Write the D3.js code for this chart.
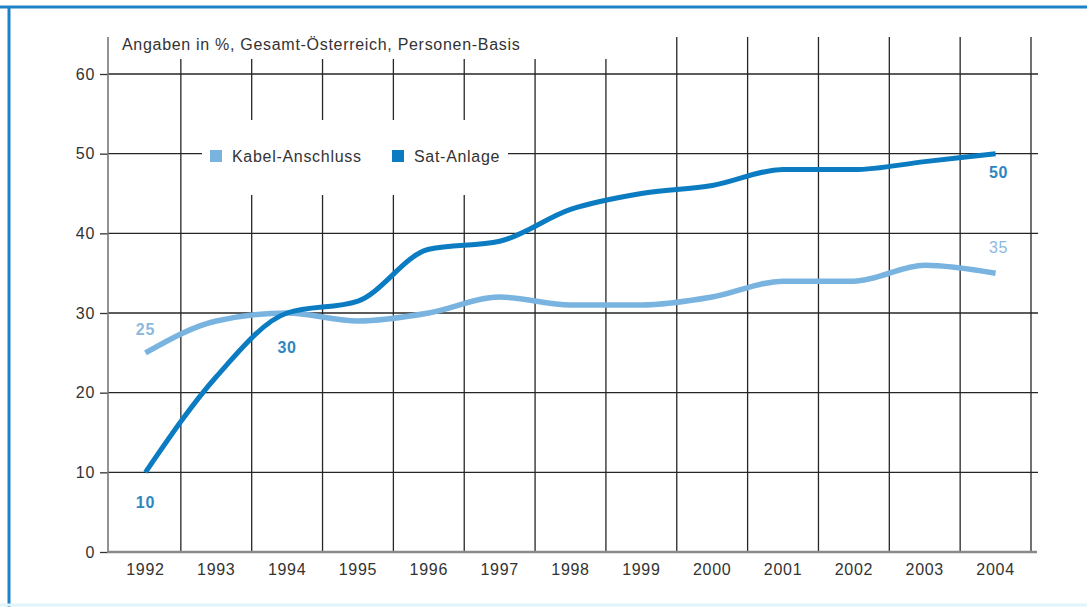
<!DOCTYPE html>
<html>
<head>
<meta charset="utf-8">
<script src="https://cdn.jsdelivr.net/npm/d3@7"></script>
<style>
  body { margin: 0; background: #fff; }
  svg { display: block; font-family: "Liberation Sans", Arial, sans-serif; }
  text { letter-spacing: 0.7px; }
</style>
</head>
<body>
<script>
// data
var years = ["1992", "1993", "1994", "1995", "1996", "1997", "1998",
             "1999", "2000", "2001", "2002", "2003", "2004"];
var kabel = [25, 29, 30, 29, 30, 32, 31, 31, 32, 34, 34, 36, 35];
var sat = [10, 22, 30, 31.5, 38, 39, 43, 45, 46, 48, 48, 49, 50];
var yTicks = [0, 10, 20, 30, 40, 50, 60];
var seriesNames = ["Kabel-Anschluss", "Sat-Anlage"];
var subtitle = "Angaben in %, Gesamt-Österreich, Personen-Basis";

var W = 1087, H = 607;
var cLight = "#79b4e0", cDark = "#0b7cc1";

var svg = d3.select("body").append("svg")
    .attr("width", W)
    .attr("height", H);

// frame round the picture
svg.append("rect").attr("x", 0).attr("y", 0).attr("width", W).attr("height", H).attr("fill", "#fff");
svg.append("line").attr("x1", 0).attr("x2", W).attr("y1", 7).attr("y2", 7)
    .attr("stroke", "#1f82c6").attr("stroke-width", 3);
svg.append("line").attr("x1", 9).attr("x2", 9).attr("y1", 6).attr("y2", H)
    .attr("stroke", "#1f82c6").attr("stroke-width", 3);
svg.append("line").attr("x1", 0).attr("x2", W).attr("y1", 605).attr("y2", 605)
    .attr("stroke", "#dff5fb").attr("stroke-width", 3);

var x = d3.scaleBand().domain(years).range([110, 1031]).paddingInner(0).paddingOuter(0);
var y = d3.scaleLinear().domain([0, 60]).range([552, 74]);
var cx = function(yr) { return x(yr) + x.bandwidth() / 2; };

var grid = svg.append("g").attr("stroke", "#262626").attr("stroke-width", 1.3);

// horizontal grid lines
grid.selectAll("line.h").data(yTicks.slice(1)).join("line")
    .attr("class", "h")
    .attr("x1", 108).attr("x2", 1038)
    .attr("y1", function(d) { return y(d); })
    .attr("y2", function(d) { return y(d); });

// vertical lines between the years
var bounds = years.slice(1).concat(["end"]);
grid.selectAll("line.v").data(bounds).join("line")
    .attr("class", "v")
    .attr("x1", function(d) { return d === "end" ? x.range()[1] : x(d); })
    .attr("x2", function(d) { return d === "end" ? x.range()[1] : x(d); })
    .attr("y1", function(d, i) { return i < 7 ? 59 : 37; })
    .attr("y2", y(0));

// legend sits in a white box that cuts the grid
svg.append("rect").attr("x", 202).attr("y", 120).attr("width", 306).attr("height", 75).attr("fill", "#fff");

var legend = svg.append("g").attr("font-size", 16).attr("fill", "#333");
var legX = [210, 392];
seriesNames.forEach(function(n, i) {
  legend.append("rect").attr("x", legX[i]).attr("y", 150).attr("width", 12).attr("height", 12)
      .attr("fill", i === 0 ? cLight : cDark);
  legend.append("text").attr("x", legX[i] + 22).attr("y", 156).attr("dy", "0.35em").text(n);
});

// axes
var yAxis = svg.append("g").attr("transform", "translate(108,0)")
    .call(d3.axisLeft(y).tickValues(yTicks).tickSize(8).tickPadding(5));
yAxis.select(".domain").remove();
yAxis.selectAll(".tick line").attr("stroke", "#333").attr("stroke-width", 1.3);
yAxis.selectAll(".tick text").attr("font-size", 16).attr("fill", "#333")
    .attr("font-family", "'Liberation Sans', Arial, sans-serif");

var xAxis = svg.append("g").attr("transform", "translate(0," + y(0) + ")")
    .call(d3.axisBottom(x).tickSize(0).tickPadding(12));
xAxis.select(".domain").remove();
xAxis.selectAll(".tick text").attr("font-size", 16).attr("fill", "#333")
    .attr("font-family", "'Liberation Sans', Arial, sans-serif");

svg.append("line").attr("x1", 108).attr("x2", 108).attr("y1", 37).attr("y2", y(0))
    .attr("stroke", "#777").attr("stroke-width", 1.6);
svg.append("line").attr("x1", 107).attr("x2", 1037).attr("y1", y(0)).attr("y2", y(0))
    .attr("stroke", "#8a8a8a").attr("stroke-width", 2.4);

svg.append("text").attr("x", 122).attr("y", 50).attr("font-size", 16).attr("fill", "#333")
    .text(subtitle);

// the two lines
var line = d3.line()
    .x(function(d, i) { return cx(years[i]); })
    .y(function(d) { return y(d); })
    .curve(d3.curveMonotoneX);

svg.append("path").attr("d", line(kabel))
    .attr("fill", "none").attr("stroke", cLight).attr("stroke-width", 5.5);
svg.append("path").attr("d", line(sat))
    .attr("fill", "none").attr("stroke", cDark).attr("stroke-width", 5);

// value labels at start and end
var last = years.length - 1;
var labels = [
  {t: kabel[0], x: cx(years[0]), y: y(kabel[0]) - 23, c: "#8cb9de", w: "bold"},
  {t: sat[2], x: cx(years[2]) + 0, y: y(sat[2]) + 34, c: "#2f86c0", w: "bold"},
  {t: sat[0], x: cx(years[0]), y: y(sat[0]) + 30, c: "#2f86c0", w: "bold"},
  {t: sat[last], x: cx(years[last]) + 3, y: y(sat[last]) + 19, c: "#2f86c0", w: "bold"},
  {t: kabel[last], x: cx(years[last]) + 3, y: y(kabel[last]) - 26, c: "#8cb9de", w: "normal"}
];
svg.append("g").selectAll("text").data(labels).join("text")
    .attr("x", function(d) { return d.x; })
    .attr("y", function(d) { return d.y; })
    .attr("dy", "0.35em")
    .attr("text-anchor", "middle")
    .attr("font-size", 16)
    .attr("font-weight", function(d) { return d.w; })
    .attr("fill", function(d) { return d.c; })
    .text(function(d) { return d.t; });
</script>
</body>
</html>
